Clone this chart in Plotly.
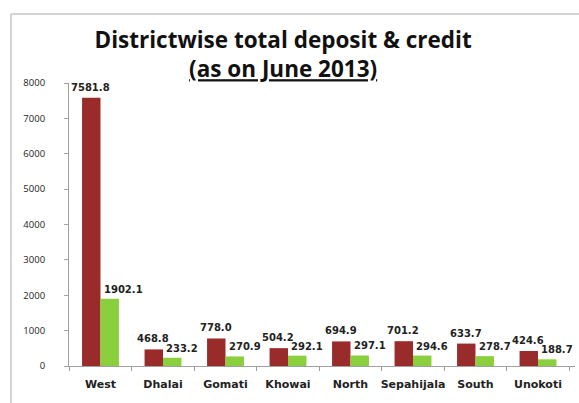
import plotly.graph_objects as go

districts = ["West", "Dhalai", "Gomati", "Khowai", "North", "Sepahijala", "South", "Unokoti"]
deposit = [7581.8, 468.8, 778.0, 504.2, 694.9, 701.2, 633.7, 424.6]
credit = [1902.1, 233.2, 270.9, 292.1, 297.1, 294.6, 278.7, 188.7]
y_ticks = [0, 1000, 2000, 3000, 4000, 5000, 6000, 7000, 8000]

label_font = "DejaVu Sans, Verdana, sans-serif"
title_font = "Open Sans, Lato, sans-serif"

fig = go.Figure()
fig.add_trace(go.Bar(
    x=districts, y=deposit, name="Deposit",
    marker=dict(color="#9A2B2B", line=dict(width=0)),
))
fig.add_trace(go.Bar(
    x=districts, y=credit, name="Credit",
    marker=dict(color="#8ACF3E", line=dict(width=0)),
))

annotations = []
for d, v in zip(districts, deposit):
    annotations.append(dict(
        x=d, y=v, xref="x", yref="y", text=f"<b>{v:.1f}</b>", showarrow=False,
        xanchor="center", yanchor="bottom", xshift=-10, yshift=3,
        font=dict(size=10, color="#222222", family=label_font),
    ))
for d, v in zip(districts, credit):
    annotations.append(dict(
        x=d, y=v, xref="x", yref="y", text=f"<b>{v:.1f}</b>", showarrow=False,
        xanchor="left", yanchor="bottom", xshift=1, yshift=2,
        font=dict(size=10, color="#222222", family=label_font),
    ))

fig.update_layout(
    width=579, height=403,
    margin=dict(l=69, r=4, t=83, b=37, autoexpand=False),
    paper_bgcolor="white", plot_bgcolor="white",
    barmode="group", bargap=0.41, bargroupgap=0,
    showlegend=False,
    font=dict(family=label_font, color="#222222"),
    title=dict(
        text="<b>Districtwise total deposit & credit</b><br><b><u>(as on June 2013)</u></b>",
        x=0.489, xanchor="center", y=0.881, yanchor="middle",
        font=dict(size=22.5, color="#111111", family=title_font),
    ),
    xaxis=dict(
        showline=True, linecolor="#a0a0a0", linewidth=1,
        ticks="outside", ticklen=4, tickcolor="#a0a0a0",
        tickson="boundaries", tickangle=0, automargin=False,
        ticklabelstandoff=8,
        tickfont=dict(size=11, color="#222222", family=label_font),
        tickprefix="<b>", ticksuffix="</b>",
        showgrid=False,
    ),
    yaxis=dict(
        range=[0, 8000], tickvals=y_ticks, automargin=False,
        showline=True, linecolor="#a0a0a0", linewidth=1,
        ticks="outside", ticklen=4, tickcolor="#a0a0a0",
        ticklabelstandoff=17,
        tickfont=dict(size=9.5, color="#222222", family=title_font),
        tickprefix="<b>", ticksuffix="</b>",
        showgrid=False, zeroline=False,
    ),
    annotations=annotations,
    shapes=[
        dict(type="line", xref="paper", yref="paper", x0=-0.1146, x1=-0.1146, y0=-0.131, y1=1.2438,
             line=dict(color="#d4d4d4", width=2)),
        dict(type="line", xref="paper", yref="paper", x0=-0.1146, x1=1.02, y0=1.2438, y1=1.2438,
             line=dict(color="#d4d4d4", width=2)),
    ],
)

fig.write_html("out.html", config={"displayModeBar": False},
               post_script="document.body.style.margin='0px';")
